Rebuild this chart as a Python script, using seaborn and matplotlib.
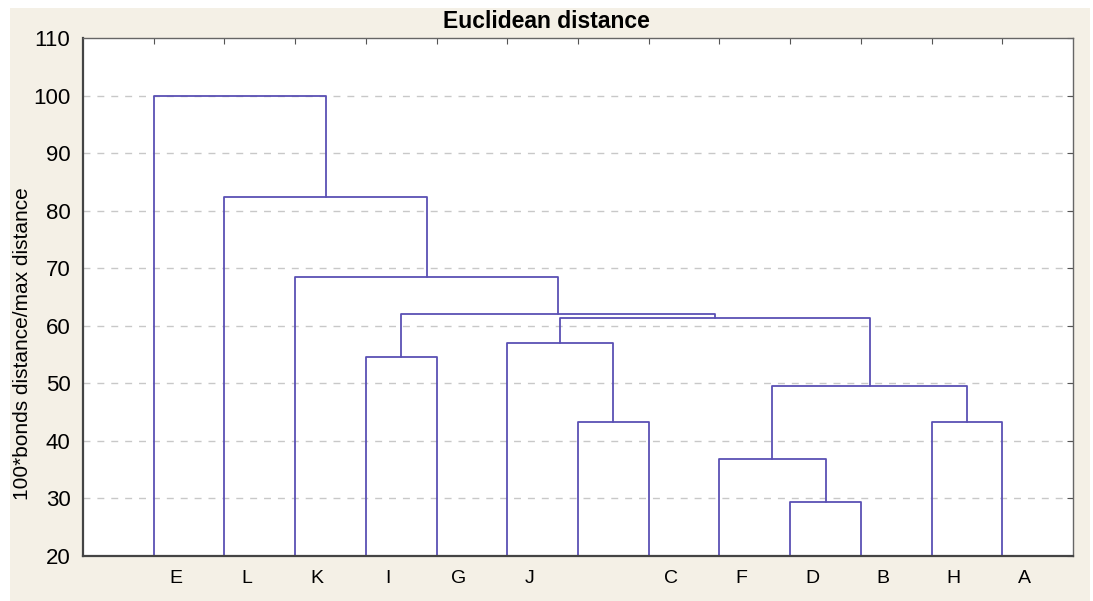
import numpy as np
import pandas as pd
import matplotlib
matplotlib.use("Agg")
import matplotlib.pyplot as plt
import seaborn as sns
from matplotlib.patches import Rectangle

# leaf order as drawn (one leaf carries no label in the source)
leaves = ["E", "L", "K", "I", "G", "J", "", "C", "F", "D", "B", "H", "A"]

# merges, linkage style: ids 0..12 are leaves, new clusters get 13, 14, ...
merge_a = [9, 8, 6, 11, 14, 3, 5, 19, 18, 2, 1, 0]
merge_b = [10, 13, 7, 12, 16, 4, 15, 17, 20, 21, 22, 23]
heights = [29.4, 36.9, 43.3, 43.3, 49.5, 54.6, 57.0, 61.3, 62.0, 68.5, 82.4, 100.0]

yticks = [20, 30, 40, 50, 60, 70, 80, 90, 100, 110]

line_color = "#5a50b4"
bg_color = "#f4f0e6"

# build U-shaped segments for each merge
pos = {i: float(i) for i in range(len(leaves))}
top = {i: 20.0 for i in range(len(leaves))}
rows = []
for k, (a, b, h) in enumerate(zip(merge_a, merge_b, heights)):
    new = len(leaves) + k
    xs = [pos[a], pos[a], pos[b], pos[b]]
    ys = [top[a], h, h, top[b]]
    for j, (x, y) in enumerate(zip(xs, ys)):
        rows.append({"merge": k, "step": j, "x": x, "y": y})
    pos[new] = (pos[a] + pos[b]) / 2
    top[new] = h
segs = pd.DataFrame(rows)

sns.set_style("white")
plt.rcParams["font.family"] = ["Liberation Sans", "DejaVu Sans"]
plt.rcParams["text.color"] = "black"
plt.rcParams["xtick.color"] = "black"
plt.rcParams["ytick.color"] = "black"
plt.rcParams["axes.labelcolor"] = "black"

fig = plt.figure(figsize=(10.93, 6.01), dpi=100)
fig.patch.set_facecolor("white")
fig.patches.append(Rectangle((10 / 1093, 0), 1080 / 1093, 1 - 8 / 601,
                             transform=fig.transFigure, facecolor=bg_color,
                             edgecolor="none", zorder=-10))
ax = fig.add_axes([83 / 1093, 1 - 556 / 601, 990 / 1093, 518 / 601])
ax.set_facecolor("white")

for y in yticks[1:-1]:
    ax.axhline(y, color="#c8c8c8", lw=1, ls=(0, (5, 5)), zorder=0)

sns.lineplot(data=segs, x="x", y="y", units="merge", estimator=None,
             sort=False, color=line_color, lw=1.3, ax=ax, legend=False)

ax.set_xlim(-1, 13)
ax.set_ylim(20, 110)
ax.set_yticks(yticks)
ax.set_yticklabels([str(v) for v in yticks], fontsize=16)
ax.tick_params(axis="y", which="major", left=False, right=True,
               direction="in", length=4, color="#555555", pad=9)

ax.set_xticks(range(len(leaves)))
ax.tick_params(axis="x", which="major", bottom=False, top=True,
               direction="in", length=4, color="#555555", labelbottom=False)
ax.set_xticks(np.arange(len(leaves)) + 0.31, minor=True)
ax.set_xticklabels(leaves, minor=True, fontsize=14)
ax.tick_params(axis="x", which="minor", bottom=False, length=0, pad=10)

ax.set_xlabel("")
ax.set_ylabel("100*bonds distance/max distance", fontsize=15)
ax.yaxis.set_label_coords(-0.052, 0.41)

for side in ["left", "bottom"]:
    ax.spines[side].set_color("#444444")
    ax.spines[side].set_linewidth(1.6)
for side in ["top", "right"]:
    ax.spines[side].set_visible(True)
    ax.spines[side].set_color("#666666")
    ax.spines[side].set_linewidth(1.0)

fig.suptitle("Euclidean distance", x=0.5, y=1 - 10 / 601, va="top",
             fontsize=16.5, fontweight="bold")

fig.savefig("out.png", dpi=100, facecolor=fig.get_facecolor())
